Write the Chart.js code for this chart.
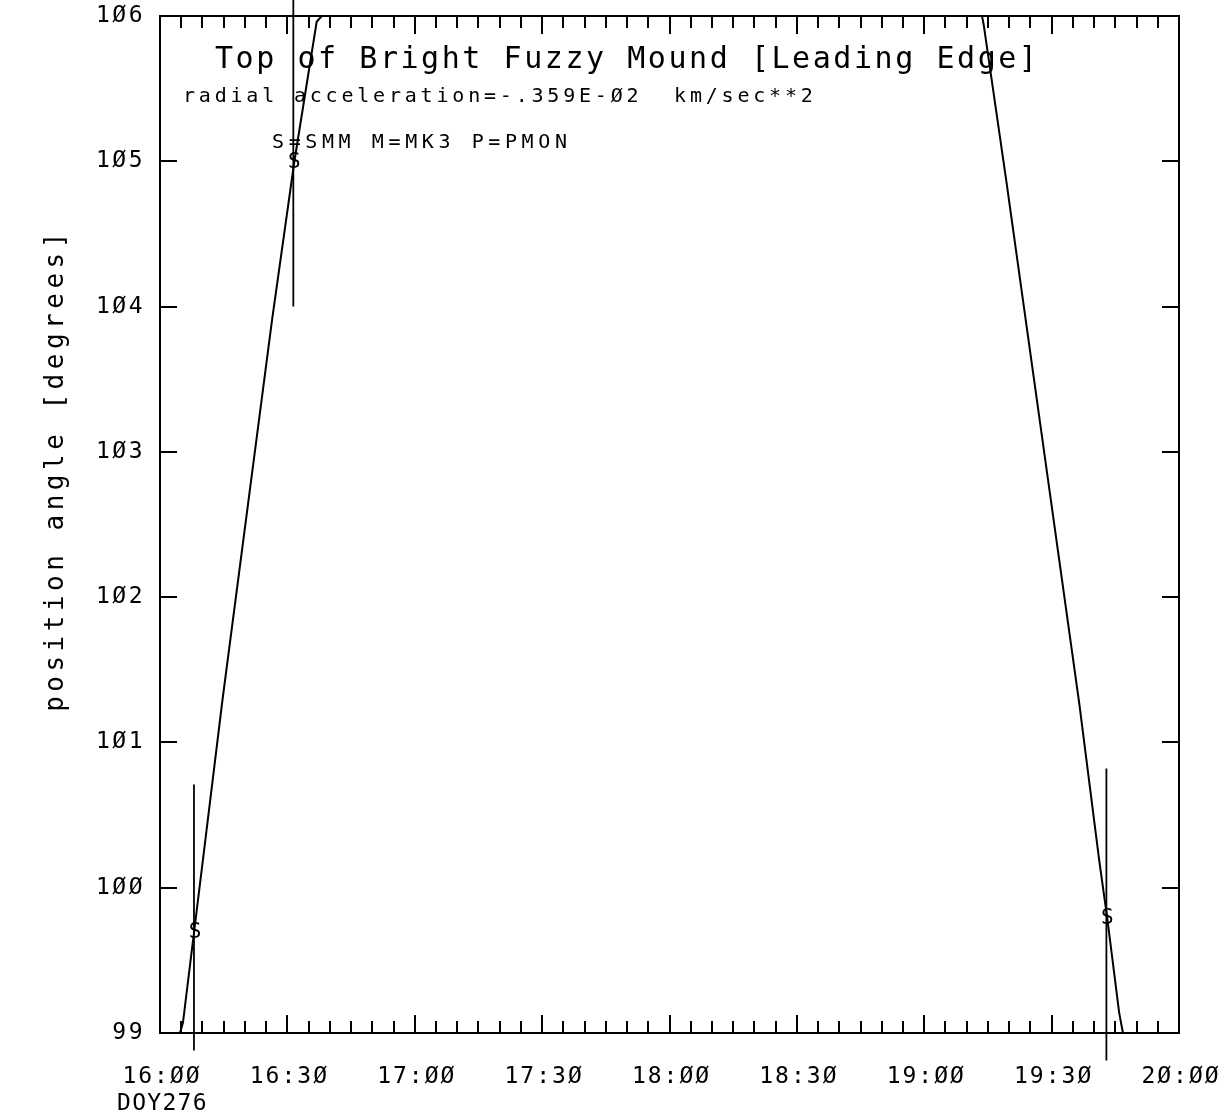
<!DOCTYPE html>
<html>
<head>
<meta charset="utf-8">
<script src="https://cdn.jsdelivr.net/npm/chart.js@4"></script>
<style>
  body { margin: 0; background: #fff; }
  canvas { display: block; }
</style>
</head>
<body>
<canvas id="pa-chart" width="1230" height="1118"></canvas>
<script>
// tiempo en minutos desde 16:00 (DOY276)
const leftFitT = [4.7, 5.4, 10.1, 14.7, 26.4, 31.6, 36.9, 38.1];
const leftFitY = [99.00, 99.07, 100.19, 101.29, 103.91, 104.99, 105.96, 106.00];
const rightFitT = [193.6, 194.0, 199.3, 216.5, 221.2, 223.1, 225.9, 226.8];
const rightFitY = [106.00, 105.94, 104.87, 101.27, 100.19, 99.79, 99.14, 99.00];

// puntos SMM con barras de error
const smmT = [8.0, 31.4, 222.9];
const smmY = [99.69, 104.99, 99.79];
const errLo = [98.88, 104.00, 98.81];
const errHi = [100.71, 106.11, 100.82];

// ejes
const xTickValues = [0, 30, 60, 90, 120, 150, 180, 210, 240];
const xTickLabels = ["16:ØØ", "16:3Ø", "17:ØØ", "17:3Ø", "18:ØØ", "18:3Ø", "19:ØØ", "19:3Ø", "2Ø:ØØ"];
const yTickValues = [99, 100, 101, 102, 103, 104, 105, 106];
const yTickLabels = ["99", "1ØØ", "1Ø1", "1Ø2", "1Ø3", "1Ø4", "1Ø5", "1Ø6"];

const FONT = "'DejaVu Sans Mono', monospace";

const toPoints = (xs, ys) => xs.map((x, i) => ({ x, y: ys[i] }));

// barras de error como un solo dataset con huecos
const errPoints = [];
smmT.forEach((t, i) => {
    errPoints.push({ x: t, y: errLo[i] }, { x: t, y: errHi[i] }, { x: t, y: null });
});

function drawText(ctx, text, x, y, size, spacing, align, baseline) {
    ctx.font = `${size}px ${FONT}`;
    ctx.letterSpacing = spacing + "px";
    ctx.textAlign = align || "left";
    ctx.textBaseline = baseline || "alphabetic";
    ctx.fillText(text, x, y);
}

// marco, ticks hacia dentro, etiquetas y textos
const framePlugin = {
    id: "frame",
    afterDatasetsDraw(chart) {
        const ctx = chart.ctx;
        const { left, right, top, bottom } = chart.chartArea;
        const xs = chart.scales.x;
        const ys = chart.scales.y;
        ctx.save();
        ctx.strokeStyle = "#000";
        ctx.fillStyle = "#000";
        ctx.lineWidth = 2;
        ctx.strokeRect(left, top, right - left, bottom - top);

        // ticks eje x cada 5 minutos, mayores cada 30
        ctx.beginPath();
        for (let m = 5; m < 240; m += 5) {
            const px = Math.round(xs.getPixelForValue(m));
            const len = m % 30 === 0 ? 18 : 12;
            ctx.moveTo(px, bottom);
            ctx.lineTo(px, bottom - len);
            ctx.moveTo(px, top);
            ctx.lineTo(px, top + len);
        }
        // ticks eje y
        yTickValues.forEach(v => {
            const py = Math.round(ys.getPixelForValue(v));
            ctx.moveTo(left, py);
            ctx.lineTo(left + 17, py);
            ctx.moveTo(right, py);
            ctx.lineTo(right - 17, py);
        });
        ctx.stroke();

        // letras S de los puntos SMM
        const meta = chart.getDatasetMeta(3);
        meta.data.forEach(el => {
            drawText(ctx, "S", el.x + 1, el.y, 21, 0, "center", "middle");
        });

        // etiquetas eje x
        xTickValues.forEach((v, i) => {
            drawText(ctx, xTickLabels[i], xs.getPixelForValue(v) + 2, 1083, 23, 2, "center");
        });
        drawText(ctx, "DOY276", 117, 1110, 23, 1.3, "left");

        // etiquetas eje y
        yTickValues.forEach((v, i) => {
            drawText(ctx, yTickLabels[i], 145, ys.getPixelForValue(v), 23, 2.5, "right", "middle");
        });

        // titulo eje y
        ctx.save();
        ctx.translate(63, 470);
        ctx.rotate(-Math.PI / 2);
        drawText(ctx, "position angle [degrees]", 0, 0, 26, 4.5, "center");
        ctx.restore();

        // textos dentro del grafico
        drawText(ctx, "Top of Bright Fuzzy Mound [Leading Edge]", 215, 68, 30, 2.55, "left");
        drawText(ctx, "radial acceleration=-.359E-Ø2  km/sec**2", 183, 102, 20, 3.8, "left");
        drawText(ctx, "S=SMM M=MK3 P=PMON", 272, 148, 20, 4.6, "left");
        ctx.restore();
    }
};

const lineStyle = {
    borderColor: "#000",
    borderWidth: 2,
    pointRadius: 0,
    tension: 0,
    fill: false,
};

new Chart(document.getElementById("pa-chart").getContext("2d"), {
    type: "line",
    data: {
        datasets: [
            { label: "fit1", data: toPoints(leftFitT, leftFitY), ...lineStyle },
            { label: "fit2", data: toPoints(rightFitT, rightFitY), ...lineStyle },
            { label: "err", data: errPoints, ...lineStyle, borderWidth: 1.8, spanGaps: false, clip: false },
            { label: "SMM", data: toPoints(smmT, smmY), showLine: false, pointRadius: 0 },
        ],
    },
    options: {
        responsive: false,
        animation: false,
        events: [],
        layout: { padding: { left: 160, top: 16, right: 51, bottom: 85 } },
        plugins: { legend: { display: false }, tooltip: { enabled: false } },
        scales: {
            x: { type: "linear", min: 0, max: 240, display: false },
            y: { type: "linear", min: 99, max: 106, display: false },
        },
    },
    plugins: [framePlugin],
});
</script>
</body>
</html>
